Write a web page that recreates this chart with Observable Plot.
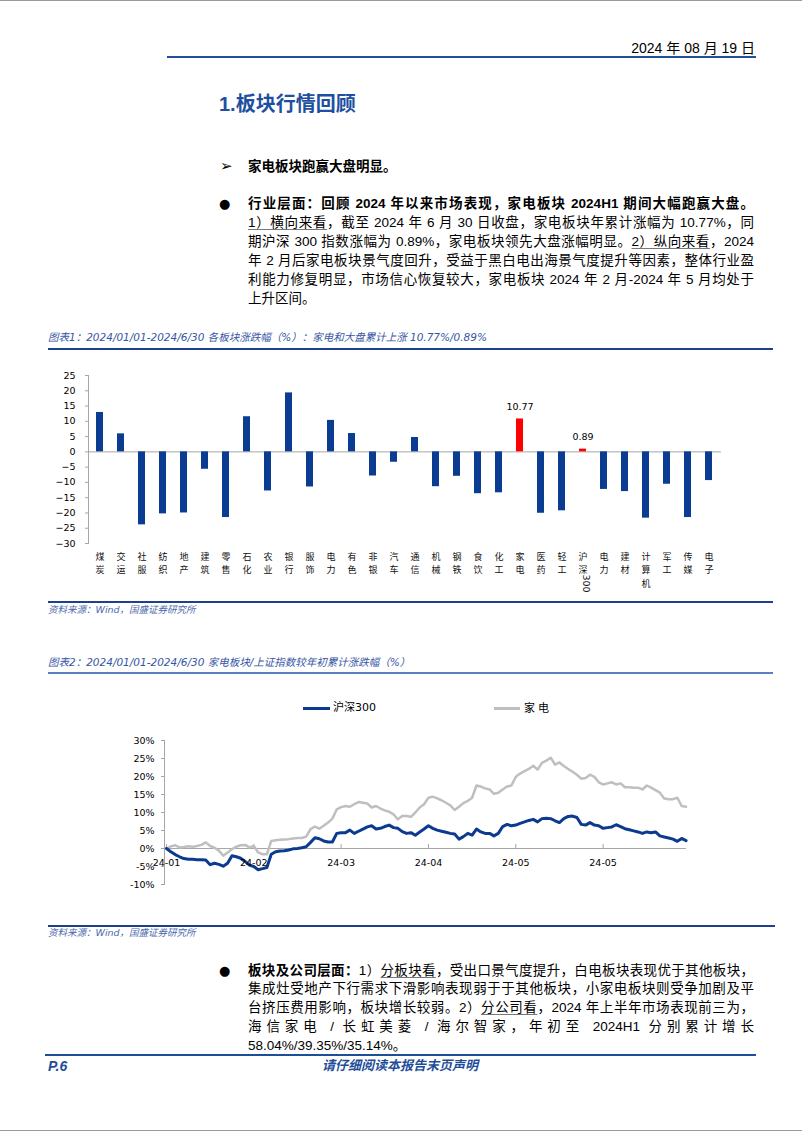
<!DOCTYPE html>
<html><head><meta charset="utf-8">
<script src="https://cdn.jsdelivr.net/npm/d3@7"></script>
<script src="https://cdn.jsdelivr.net/npm/@observablehq/plot@0.6"></script>
<style>
body{margin:0;background:#fff;}
#page{position:relative;width:802px;height:1133px;overflow:hidden;background:#fff;font-family:"Liberation Sans","Noto Sans CJK SC",sans-serif;color:#000;}
.abs{position:absolute;white-space:nowrap;}
.rule{position:absolute;}
.ln{position:absolute;left:248px;width:506px;height:19px;line-height:19px;font-size:13.5px;white-space:nowrap;text-align:justify;text-align-last:justify;}
.ln.last{text-align-last:left;}
.ln u{text-decoration-color:#777;text-underline-offset:2px;}
.ctitle{position:absolute;left:48px;font-size:10.5px;font-style:italic;color:#3556a4;line-height:14px;white-space:nowrap;font-family:"DejaVu Sans","Noto Sans CJK SC",sans-serif;}
.src{position:absolute;left:48px;font-size:9.5px;font-style:italic;color:#4a68ad;line-height:12px;white-space:nowrap;font-family:"DejaVu Sans","Noto Sans CJK SC",sans-serif;}
.chart{position:absolute;left:0;}
.dot{position:absolute;font-family:"DejaVu Sans";font-size:13px;line-height:19px;}
</style></head>
<body><div id="page">
<div class="rule" style="left:0;top:0;width:802px;height:1px;background:#9a9a9a"></div>
<div class="abs" style="right:47px;top:39px;font-size:14px;line-height:18px;">2024 年 08 月 19 日</div>
<div class="rule" style="left:167px;top:56px;width:589px;height:2px;background:#234f9c"></div>
<div class="abs" style="left:219px;top:92px;font-size:20px;line-height:24px;font-weight:bold;color:#1e4fa0;">1.板块行情回顾</div>
<div class="abs" style="left:220px;top:157px;font-size:15px;line-height:19px;font-family:'DejaVu Sans';">➢</div>
<div class="abs" style="left:248px;top:157px;font-size:13.5px;line-height:19px;font-weight:bold;">家电板块跑赢大盘明显。</div>
<div class="dot" style="left:219px;top:194px;">●</div>
<div class="ln" style="top:194px;font-weight:bold;">行业层面：回顾 2024 年以来市场表现，家电板块 2024H1 期间大幅跑赢大盘。</div>
<div class="ln" style="top:213px;"><u>1）横向来看</u>，截至 2024 年 6 月 30 日收盘，家电板块年累计涨幅为 10.77%，同</div>
<div class="ln" style="top:232px;">期沪深 300 指数涨幅为 0.89%，家电板块领先大盘涨幅明显。<u>2）纵向来看</u>，2024</div>
<div class="ln" style="top:251px;">年 2 月后家电板块景气度回升，受益于黑白电出海景气度提升等因素，整体行业盈</div>
<div class="ln" style="top:270px;">利能力修复明显，市场信心恢复较大，家电板块 2024 年 2 月-2024 年 5 月均处于</div>
<div class="ln last" style="top:289px;">上升区间。</div>

<div class="ctitle" style="top:330px;">图表1：2024/01/01-2024/6/30 各板块涨跌幅（%）：家电和大盘累计上涨 10.77%/0.89%</div>
<div class="rule" style="left:48px;top:348px;width:725px;height:2px;background:#1f3f8f"></div>
<div id="chart1" class="chart" style="top:360px;"></div>
<div class="rule" style="left:48px;top:601px;width:725px;height:1.5px;background:#1f3f8f"></div>
<div class="src" style="top:604px;">资料来源：Wind，国盛证券研究所</div>

<div class="ctitle" style="top:655px;">图表2：2024/01/01-2024/6/30 家电板块/上证指数较年初累计涨跌幅（%）</div>
<div class="rule" style="left:48px;top:672px;width:725px;height:1.5px;background:#5b7fbf"></div>
<div class="rule" style="left:303px;top:706.5px;width:27px;height:3px;background:#0b3a8f"></div>
<div class="abs" style="left:333px;top:701px;font-size:11px;line-height:14px;font-family:'DejaVu Sans','Noto Sans CJK SC';">沪深300</div>
<div class="rule" style="left:494px;top:707px;width:26px;height:2.5px;background:#bfbfbf"></div>
<div class="abs" style="left:524px;top:701px;font-size:11px;line-height:14px;letter-spacing:3px;">家电</div>
<div id="chart2" class="chart" style="top:725px;"></div>
<div class="rule" style="left:48px;top:925px;width:727px;height:1.5px;background:#1f3f8f"></div>
<div class="src" style="top:927px;">资料来源：Wind，国盛证券研究所</div>

<div class="dot" style="left:219px;top:961px;">●</div>
<div class="ln" style="top:961px;"><b>板块及公司层面：</b>1）<u>分板块看</u>，受出口景气度提升，白电板块表现优于其他板块，</div>
<div class="ln" style="top:979px;">集成灶受地产下行需求下滑影响表现弱于于其他板块，小家电板块则受争加剧及平</div>
<div class="ln" style="top:998px;">台挤压费用影响，板块增长较弱。2）<u>分公司看</u>，2024 年上半年市场表现前三为，</div>
<div class="ln" style="top:1017px;">海信家电 / 长虹美菱 / 海尔智家，年初至 2024H1 分别累计增长</div>
<div class="ln last" style="top:1036px;">58.04%/39.35%/35.14%。</div>
<div class="rule" style="left:45px;top:1054px;width:711px;height:1.5px;background:#1f4e99"></div>
<div class="abs" style="left:48px;top:1057px;font-size:14px;line-height:18px;font-weight:bold;font-style:italic;color:#1f4e99;">P.6</div>
<div class="abs" style="left:320px;width:160px;text-align:center;top:1057px;font-size:13px;line-height:18px;font-weight:bold;font-style:italic;color:#1f4e99;">请仔细阅读本报告末页声明</div>
<div class="rule" style="left:0;top:1130px;width:802px;height:1px;background:#9a9a9a"></div>
</div>
<script>
// ---------- Chart 1 data ----------
const sectors = ["煤炭","交运","社服","纺织","地产","建筑","零售","石化","农业","银行","服饰","电力","有色","非银","汽车","通信","机械","钢铁","食饮","化工","家电","医药","轻工","沪深300","电力","建材","计算机","军工","传媒","电子"];
const sectorChange = [12.9,5.9,-23.9,-20.3,-20.0,-5.7,-21.5,11.5,-12.8,19.3,-11.5,10.3,6.0,-7.9,-3.4,4.7,-11.4,-8.0,-13.7,-13.4,10.77,-20.1,-19.3,0.89,-12.3,-13.0,-21.7,-10.6,-21.5,-9.4];
const highlighted = ["家电","沪深300"];
const yTicks1 = [25,20,15,10,5,0,-5,-10,-15,-20,-25,-30];

// ---------- Chart 2 data ----------
const tickIndex = [0,20,40,60,80,100];
const tickLabels = ["24-01","24-02","24-03","24-04","24-05","24-05"];
const yTicks2 = [30,25,20,15,10,5,0,-5,-10];
const hs300 = [0,-0.9,-1.7,-2.3,-2.8,-3.0,-3.0,-3.1,-3.1,-3.2,-4.5,-4.1,-4.4,-4.9,-4.1,-2.0,-2.3,-2.7,-3.6,-4.6,
 -5.0,-5.9,-5.6,-5.3,-1.6,-0.9,-0.7,-0.6,-0.4,-0.1,0,0.2,0.5,1.7,3.0,2.7,2.1,1.8,1.8,4.2,
 4.4,4.4,5.1,4.2,4.8,5.4,6.0,6.3,5.4,5.6,6.1,6.5,5.8,5.6,4.7,4.2,4.4,3.7,4.6,5.4,
 6.3,5.6,5.1,4.8,4.5,4.2,4.0,2.6,3.3,4.2,3.7,5.4,4.6,4.2,4.2,3.5,4.2,6.1,6.7,6.3,
 6.5,7.0,7.4,7.8,8.1,7.4,8.3,8.4,8.3,7.7,7.2,8.3,8.9,9.0,8.6,6.7,6.5,7.2,6.5,6.3,
 5.6,5.8,6.0,6.6,6.1,5.5,5.2,4.9,4.6,4.2,4.6,4.4,4.6,3.5,3.2,2.9,2.6,2.0,2.8,2.2];
const appliance = [0,0.6,0.9,0.3,0.4,0.6,0.5,0.7,1.0,1.7,0.7,0.2,-0.6,-2.0,-1.1,-0.2,0.5,0.9,1.0,0.3,
 0.7,-1.1,-1.6,-1.6,2.1,2.3,2.4,2.5,2.6,2.8,2.9,2.9,3.3,5.4,6.1,5.5,6.3,7.2,8.3,10.9,
 11.5,11.8,11.6,12.3,12.9,12.7,12.5,11.4,11.8,11.1,10.6,10.2,9.5,8.1,9.0,9.0,8.8,10.0,11.4,12.3,
 14.1,14.4,13.9,13.4,12.7,12.0,10.7,11.6,12.6,13.2,14.1,17.5,17.2,16.7,16.4,15.2,15.5,16.4,17.2,17.5,
 19.9,20.8,21.5,22.1,23.0,21.9,23.8,24.4,25.2,23.3,23.9,22.9,22.1,21.3,20.5,19.4,19.6,20.5,19.9,18.4,
 17.8,18.1,18.4,17.8,18.1,17.0,17.0,16.9,16.9,16.4,17.5,16.9,16.2,15.5,13.9,13.7,13.7,14.1,11.8,11.6];

const numFont = "DejaVu Sans";
const cjkFont = "Noto Sans CJK SC";

// ---------- Chart 1 ----------
const rows = sectors.map((name, i) => ({i, name, value: sectorChange[i]}));
const isHi = d => highlighted.includes(d.name);
const cjkPart = s => s.replace(/[0-9]+/g, "").split("").join("\n");
const digitPart = s => (s.match(/[0-9]+/) || [""])[0];

const chart1 = Plot.plot({
  width: 802, height: 240,
  marginLeft: 88, marginRight: 81, marginTop: 15, marginBottom: 57,
  style: {background: "transparent", color: "#000", overflow: "visible", fontFamily: numFont},
  x: {type: "band", domain: d3.range(sectors.length), paddingInner: 0.655, paddingOuter: 0.33, axis: null},
  y: {domain: [-30, 25], axis: null},
  marks: [
    Plot.ruleY([0], {stroke: "#a6a6a6", strokeWidth: 1}),
    Plot.barY(rows, {filter: d => !isHi(d), x: "i", y: "value", fill: "#0a3d91"}),
    Plot.barY(rows, {filter: isHi, x: "i", y: "value", fill: "#ff0000"}),
    Plot.frame({anchor: "left", stroke: "#a6a6a6"}),
    Plot.axisY({ticks: yTicks1, label: null, tickSize: 3, tickPadding: 10, stroke: "#a6a6a6", fill: "#000", fontSize: 9.5, fontFamily: numFont}),
    Plot.text(rows, {filter: isHi, x: "i", y: "value", text: d => String(d.value), dy: -12, fontSize: 9.5, fontFamily: numFont, fill: "#000"}),
    Plot.text(rows, {x: "i", frameAnchor: "bottom", text: d => cjkPart(d.name), lineAnchor: "top", dy: 7.5, lineHeight: 1.46, fontSize: 9, fontFamily: cjkFont, fill: "#111"}),
    Plot.text(rows, {filter: d => digitPart(d.name) !== "", x: "i", frameAnchor: "bottom", text: d => digitPart(d.name), rotate: 90, textAnchor: "start", dy: 31, fontSize: 9.5, fontFamily: numFont, fill: "#111"})
  ]
});
document.getElementById("chart1").appendChild(chart1);

// ---------- Chart 2 ----------
const chart2 = Plot.plot({
  width: 802, height: 170,
  marginLeft: 164, marginRight: 116, marginTop: 15, marginBottom: 11,
  style: {background: "transparent", color: "#000", overflow: "visible", fontFamily: numFont},
  x: {domain: [-0.45, 119.1], axis: null},
  y: {domain: [-10, 30], axis: null},
  marks: [
    Plot.ruleY([0], {stroke: "#a6a6a6"}),
    Plot.ruleX(tickIndex, {x: d => d, y1: () => 0, y2: () => 1.1, stroke: "#a6a6a6"}),
    Plot.frame({anchor: "left", stroke: "#a6a6a6"}),
    Plot.axisY({ticks: yTicks2, label: null, tickFormat: d => d + "%", tickSize: 3, tickPadding: 7, stroke: "#a6a6a6", fill: "#000", fontSize: 9.5, fontFamily: numFont}),
    Plot.lineY(appliance, {x: (d, i) => i, y: d => d, stroke: "#bfbfbf", strokeWidth: 2.5}),
    Plot.lineY(hs300, {x: (d, i) => i, y: d => d, stroke: "#0b3a8f", strokeWidth: 3}),
    Plot.text(tickIndex, {x: d => d, y: () => 0, text: (d, i) => tickLabels[i], dy: 14, fontSize: 9.5, fontFamily: numFont, fill: "#000"})
  ]
});
document.getElementById("chart2").appendChild(chart2);
</script>
</body></html>
